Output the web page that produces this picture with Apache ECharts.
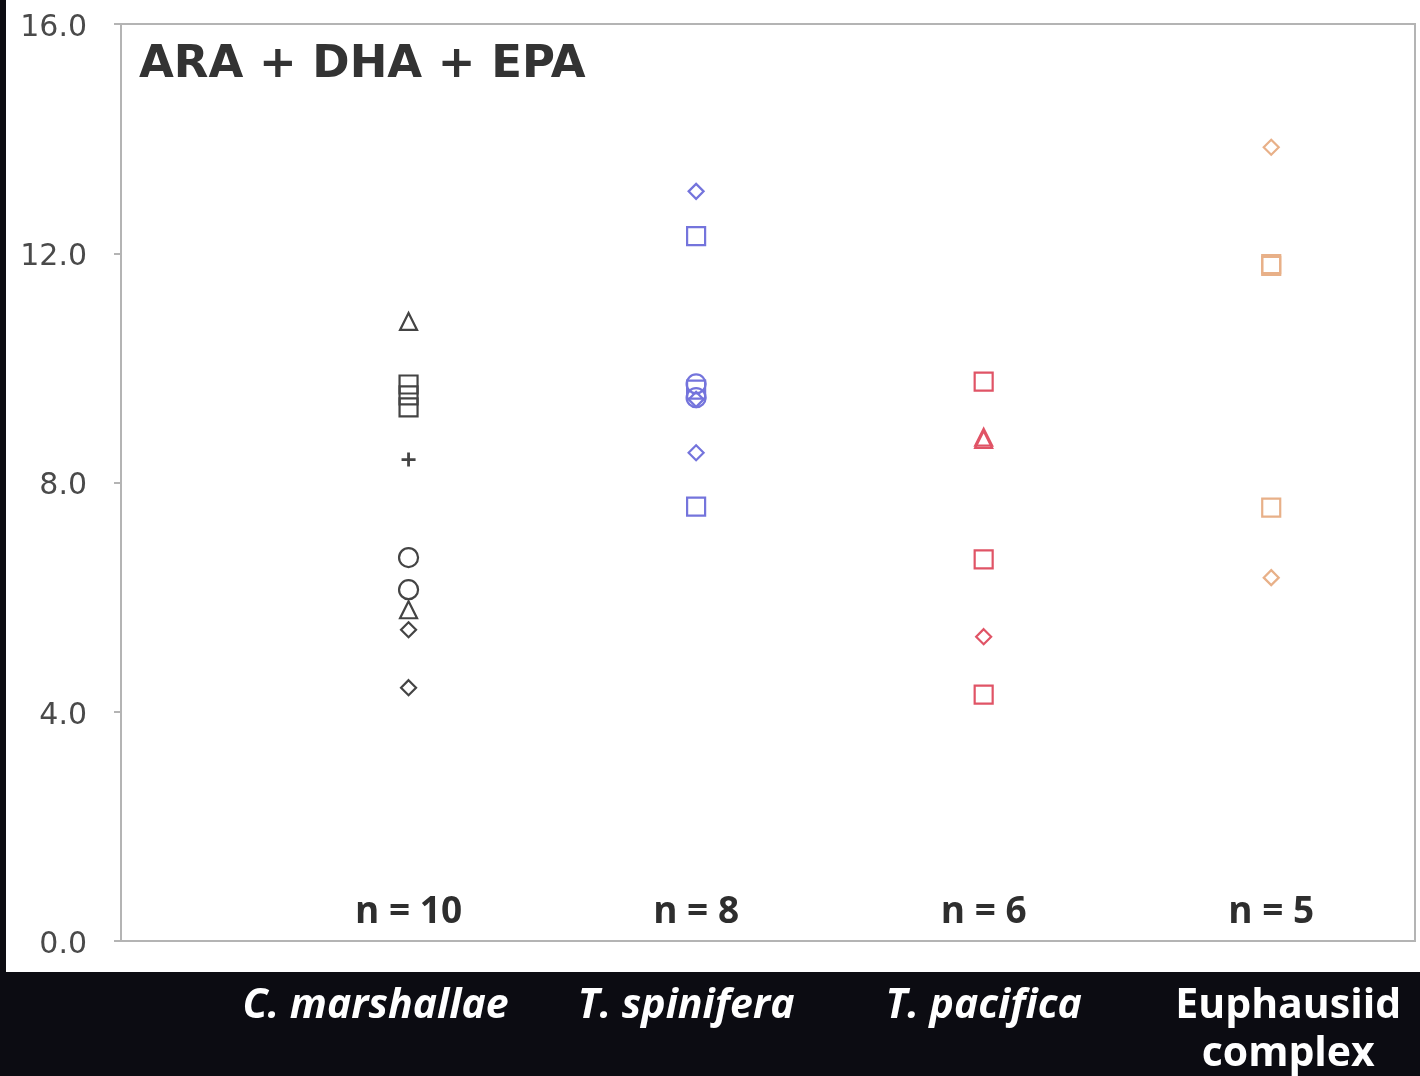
<!DOCTYPE html>
<html>
<head>
<meta charset="utf-8">
<script src="https://cdn.jsdelivr.net/npm/echarts@6/dist/echarts.min.js"></script>
<style>
  html, body { margin: 0; padding: 0; background: #0c0c12; }
  #chart { width: 1420px; height: 1076px; }
</style>
</head>
<body>
<div id="chart"></div>
<script>
// ---- data ----
const categories = ['C. marshallae', 'T. spinifera', 'T. pacifica', 'Euphausiid complex'];
const nCounts = [10, 8, 6, 5];
const yTicks = [0, 4, 8, 12, 16];

const marshallaeValues = [10.81, 9.71, 9.52, 9.31, 8.40, 6.69, 6.13, 5.78, 5.43, 4.42];
const marshallaeShapes = ['triangle', 'square', 'square', 'square', 'plus', 'circle', 'circle', 'triangle', 'diamond', 'diamond'];

const spiniferaValues = [13.08, 12.30, 9.72, 9.62, 9.48, 9.45, 8.52, 7.58];
const spiniferaShapes = ['diamond', 'square', 'circle', 'square', 'circle', 'diamond', 'diamond', 'square'];

const pacificaValues = [9.76, 8.79, 8.75, 6.66, 5.31, 4.30];
const pacificaShapes = ['square', 'triangle', 'triangle', 'square', 'diamond', 'square'];

const euphausiidValues = [13.85, 11.81, 11.78, 7.56, 6.34];
const euphausiidShapes = ['diamond', 'square', 'square', 'square', 'diamond'];

const speciesColors = ['#444444', '#7474dc', '#e05466', '#e8b088'];
const titleText = 'ARA + DHA + EPA';

// ---- build ----
const N_LABEL_Y = 0.5;
const PLUS_PATH = 'path://M4,0h2v4h4v2h-4v4h-2v-4h-4v-2h4z';
const symbolMap = {
  square: { symbol: 'rect', size: 18 },
  circle: { symbol: 'circle', size: 19 },
  triangle: { symbol: 'triangle', size: 17 },
  diamond: { symbol: 'diamond', size: 15 },
  plus: { symbol: PLUS_PATH, size: 14 }
};

function buildSeries(idx, values, shapes) {
  const color = speciesColors[idx];
  return {
    type: 'scatter',
    name: categories[idx],
    silent: true,
    itemStyle: { opacity: 1 },
    data: values.map((v, k) => {
      const s = symbolMap[shapes[k]];
      const filled = shapes[k] === 'plus';
      return {
        value: [idx, v],
        symbol: s.symbol,
        symbolSize: s.size,
        itemStyle: filled
          ? { color: color, borderWidth: 0, opacity: 1 }
          : { color: 'rgba(255,255,255,0)', borderColor: color, borderWidth: 2.2, opacity: 1 }
      };
    })
  };
}

const series = [
  buildSeries(0, marshallaeValues, marshallaeShapes),
  buildSeries(1, spiniferaValues, spiniferaShapes),
  buildSeries(2, pacificaValues, pacificaShapes),
  buildSeries(3, euphausiidValues, euphausiidShapes),
  {
    type: 'scatter',
    name: 'n',
    silent: true,
    symbolSize: 1,
    itemStyle: { color: '#ffffff', opacity: 1 },
    data: categories.map((c, i) => [i, N_LABEL_Y]),
    label: {
      show: true,
      position: 'inside',
      formatter: p => '{n|n = ' + nCounts[p.dataIndex] + '}',
      rich: {
        n: {
          color: '#2e2e2e',
          fontSize: 37,
          fontWeight: 'bold',
          fontFamily: 'Open Sans'
        }
      }
    }
  }
];

const labelShift = [-33, -10, 0, 17];

const chart = echarts.init(document.getElementById('chart'), null, { renderer: 'canvas' });
chart.setOption({
  backgroundColor: '#0c0c12',
  animation: false,
  graphic: [{
    type: 'rect',
    z: -10,
    shape: { x: 6, y: 0, width: 1414, height: 972 },
    style: { fill: '#ffffff' }
  }],
  title: {
    text: titleText,
    left: 134,
    top: 38,
    textStyle: { fontFamily: 'DejaVu Sans', fontWeight: 'bold', fontSize: 45, color: '#333' }
  },
  grid: {
    left: 121, right: 5, top: 24, bottom: 135,
    show: true,
    borderColor: '#b4b4b4',
    borderWidth: 2,
    backgroundColor: 'rgba(0,0,0,0)'
  },
  xAxis: {
    type: 'value',
    min: -1, max: 3.5, interval: 1,
    splitLine: { show: false },
    axisTick: { show: false },
    axisLine: { show: true, onZero: false, lineStyle: { color: '#b4b4b4', width: 2 } },
    axisLabel: {
      margin: 41,
      showMaxLabel: false,
      formatter: v => {
        const i = Math.round(v);
        if (i < 0 || i >= categories.length || Math.abs(v - i) > 1e-6) return '';
        const key = 's' + i;
        return i === 3
          ? categories[i].split(' ').map(w => '{' + key + '|' + w + '}').join('\n')
          : '{' + key + '|' + categories[i] + '}';
      },
      rich: Object.fromEntries(categories.map((c, i) => {
        const sh = labelShift[i];
        return ['s' + i, {
          color: '#ffffff',
          fontSize: 41,
          fontWeight: 'bold',
          fontStyle: i === 3 ? 'normal' : 'italic',
          fontFamily: 'Open Sans',
          lineHeight: 48,
          padding: sh >= 0 ? [0, 0, 0, 2 * sh] : [0, -2 * sh, 0, 0]
        }];
      }))
    }
  },
  yAxis: {
    type: 'value',
    min: yTicks[0], max: yTicks[yTicks.length - 1], interval: 4,
    splitLine: { show: false },
    axisLine: { show: true, onZero: false, lineStyle: { color: '#b4b4b4', width: 2 } },
    axisTick: { show: true, length: 7, lineStyle: { color: '#b4b4b4', width: 2 } },
    axisLabel: {
      margin: 34,
      formatter: v => '{y|' + v.toFixed(1) + '}',
      rich: {
        y: {
          color: '#4a4a4a',
          fontSize: 30,
          fontFamily: 'DejaVu Sans',
          padding: [8, 0, 0, 0]
        }
      }
    }
  },
  series: series
});
</script>
</body>
</html>
